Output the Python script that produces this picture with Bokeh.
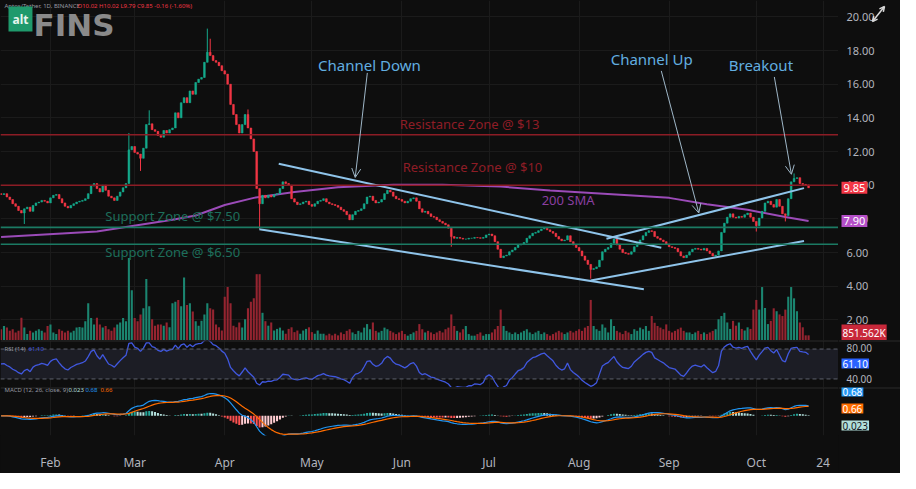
import numpy as np
import pandas as pd
from bokeh.plotting import figure
from bokeh.layouts import column, row
from bokeh.models import (ColumnDataSource, Range1d, Span, Label, Arrow, OpenHead,
                          FixedTicker, BoxAnnotation)
from bokeh.embed import file_html
from bokeh.resources import INLINE
from bokeh.core.properties import value

# ---------------- data ----------------
first_day = "2024-01-15"
first_open = 9.50
closes = [
    9.45, 9.5, 9.3, 9.15, 8.9, 8.75, 8.5, 8.35, 8.6, 8.7, 8.45, 8.8, 8.95, 9.0, 9.1, 9.05, 8.95,
    9.25, 9.4, 9.45, 9.2, 8.95, 8.75, 8.65, 8.8, 8.9, 9.0,
    9.05, 9.1, 9.2, 9.5, 9.95, 10.1, 9.8, 9.6, 10.0, 9.7,
    9.35, 9.25, 9.1, 9.35, 9.6, 9.85, 10.1, 12.1, 12.3, 11.95,
    11.85, 11.6, 12.2, 13.6, 13.65, 13.3, 13.2, 12.95, 12.85, 13.25,
    13.1, 13.3, 13.4, 14.3, 14.0, 14.9, 15.2, 14.9, 15.6, 15.4,
    16.1, 16.3, 16.4, 17.3, 17.9, 17.7, 17.4, 17.3, 17.1, 16.8,
    16.6, 16.0, 14.8, 14.2, 13.6, 13.1, 13.6, 14.2, 13.4, 12.75,
    12.0, 9.8, 8.9, 9.4, 9.25, 9.4, 9.3, 9.45, 9.5, 9.8,
    10.2, 10.1, 10.0, 9.2, 9.0, 8.85, 8.9, 9.0, 9.05, 8.85,
    8.75, 8.9, 9.05, 9.1, 9.2, 9.0, 8.9, 8.85, 8.8, 8.7,
    8.55, 8.45, 8.25, 7.95, 8.25, 8.45, 8.5, 8.6, 8.9, 9.3,
    9.35, 9.1, 8.95, 9.0, 9.15, 9.5, 9.7, 9.6, 9.35, 9.2,
    9.15, 9.05, 8.95, 9.05, 9.2, 9.25, 9.05, 8.6, 8.4, 8.45,
    8.3, 8.15, 8.1, 7.95, 7.85, 7.75, 7.65, 7.45, 6.95, 6.85,
    6.9, 6.85, 6.8, 6.8, 6.85, 6.85, 6.9, 6.88, 6.85, 6.9,
    7.05, 7.1, 7.0, 6.65, 6.2, 5.7, 5.8, 5.85, 6.05, 6.15,
    6.3, 6.45, 6.5, 6.6, 6.85, 7.0, 7.15, 7.2, 7.3, 7.4,
    7.45, 7.35, 7.25, 7.15, 6.95, 6.8, 6.7, 6.75, 7.0, 6.65,
    6.45, 6.3, 6.1, 5.8, 5.55, 5.3, 5.0, 5.05, 5.15, 5.55,
    6.05, 6.2, 6.3, 6.55, 6.8, 6.45, 6.2, 6.0, 5.95, 5.9,
    6.05, 6.35, 6.55, 6.75, 7.0, 7.2, 7.3, 7.25, 6.95, 6.85,
    6.75, 6.65, 6.5, 6.35, 6.3, 6.25, 6.05, 5.8, 5.7, 5.85,
    6.05, 6.2, 6.25, 6.2, 6.15, 6.25, 6.1, 5.95, 5.8, 5.85,
    6.1, 7.2, 7.75, 8.1, 8.3, 8.1, 8.05, 8.15, 8.1, 8.25,
    8.35, 8.1, 7.85, 7.6, 8.05, 8.45, 8.95, 9.05, 8.85, 8.7,
    9.15, 8.75, 8.3, 8.2, 9.2, 10.2, 10.4, 10.45, 10.1, 10.05,
    10.02, 9.85,
]
# volume, read as bar heights; one unit = 53.222K APT (last bar = 851.562K)
volume_read = [
    35, 45, 40, 30, 35, 25, 30, 71, 40, 20, 30, 25, 30, 35, 30, 25, 45,
    50, 25, 20, 35, 30, 25, 30, 25, 30, 40,
    42, 40, 60, 116, 70, 50, 71, 50, 40, 45,
    35, 30, 40, 50, 56, 70, 60, 256, 156, 70,
    60, 81, 100, 191, 106, 66, 46, 50, 50, 46,
    56, 41, 116, 120, 126, 106, 196, 110, 116, 90,
    60, 46, 61, 81, 116, 100, 96, 50, 41, 31,
    136, 166, 116, 46, 41, 56, 40, 66, 100, 120,
    131, 206, 206, 86, 60, 46, 56, 31, 36, 40,
    31, 21, 36, 41, 26, 31, 21, 31, 36, 41,
    26, 21, 31, 21, 21, 16, 21, 16, 21, 16,
    25, 20, 30, 35, 25, 20, 30, 25, 40, 51,
    35, 56, 30, 25, 30, 40, 35, 30, 25, 20,
    25, 30, 20, 15, 20, 25, 30, 51, 35, 25,
    30, 25, 20, 25, 30, 25, 35, 40, 81, 45,
    30, 25, 35, 45, 20, 15, 15, 20, 25, 15,
    20, 20, 25, 35, 45, 96, 45, 30, 25, 20,
    25, 20, 25, 30, 35, 25, 20, 25, 30, 20,
    25, 20, 15, 20, 25, 30, 25, 20, 25, 30,
    25, 30, 35, 30, 40, 45, 126, 45, 35, 30,
    50, 40, 25, 66, 45, 30, 25, 20, 30, 25,
    20, 35, 30, 40, 35, 45, 30, 76, 55, 45,
    40, 35, 50, 30, 25, 30, 35, 40, 30, 25,
    25, 20, 25, 30, 20, 25, 20, 25, 30, 35,
    66, 76, 86, 56, 36, 61, 46, 56, 36, 31,
    41, 36, 96, 126, 96, 166, 101, 51, 61, 100,
    91, 81, 76, 96, 136, 166, 131, 91, 56, 41,
    16, 16,
]
VOL_UNIT = 53222.0

wick_high = {"2024-02-28": 13.1, "2024-03-06": 14.45, "2024-03-26": 19.3,
             "2024-03-27": 18.7, "2024-04-09": 14.5, "2024-10-14": 10.7}
wick_low = {"2024-01-23": 7.7, "2024-03-03": 10.85, "2024-04-13": 7.4,
            "2024-06-18": 6.35, "2024-08-05": 4.45, "2024-10-01": 7.25,
            "2024-10-11": 7.85}

sma_dates = ["2024-01-15", "2024-02-17", "2024-03-14", "2024-03-22", "2024-04-01",
             "2024-04-11", "2024-04-25", "2024-05-10", "2024-05-29", "2024-06-15",
             "2024-07-05", "2024-07-22", "2024-08-18", "2024-09-01", "2024-09-14",
             "2024-09-28", "2024-10-11", "2024-10-19"]
sma_values = [6.92, 7.25, 7.95, 8.2, 8.83, 9.25, 9.6, 9.88, 10.03, 10.03,
              9.92, 9.69, 9.4, 9.25, 8.87, 8.54, 8.12, 7.88]

resistance_levels = [13.0, 10.0]
support_levels = [7.5, 6.5]

trend_lines = [  # (start date, start price, end date, end price)
    ("2024-04-19 14:00", 11.28, "2024-08-29 07:00", 6.29),   # channel down, upper
    ("2024-04-12 22:00", 7.38, "2024-08-23 07:00", 3.82),    # channel down, lower
    ("2024-08-05 00:00", 4.34, "2024-10-17 10:00", 6.69),    # channel up, lower
    ("2024-08-10 10:00", 6.82, "2024-10-17 10:00", 9.83),    # channel up, upper
]
arrows = [
    ("2024-05-20 02:00", 16.67, "2024-05-15 22:00", 10.46),
    ("2024-08-29 07:00", 16.79, "2024-09-11 05:00", 8.35),
    ("2024-10-07 05:00", 16.43, "2024-10-13 02:00", 10.65),
]
notes = [  # text, date, price, colour, size
    ("Channel Down", "2024-05-20 19:00", 17.13, "#62aee0", "15px"),
    ("Channel Up", "2024-08-26 00:00", 17.47, "#62aee0", "15px"),
    ("Breakout", "2024-10-02 14:00", 17.13, "#62aee0", "15px"),
    ("Resistance Zone @ $13", "2024-06-24 07:00", 13.63, "#8e1d26", "13px"),
    ("Resistance Zone @ $10", "2024-06-25 07:00", 11.10, "#8e1d26", "13px"),
    ("200 SMA", "2024-07-28 05:00", 9.10, "#8a3fa0", "13px"),
    ("Support Zone @ $7.50", "2024-03-14 02:00", 8.18, "#1d6e5b", "13px"),
    ("Support Zone @ $6.50", "2024-03-14 02:00", 6.06, "#1d6e5b", "13px"),
]

price_ticks = [2, 4, 6, 8, 10, 12, 14, 16, 18, 20]
rsi_tick_labels = ["80.00", "40.00"]
month_ticks = ["2024-02-01", "2024-03-01", "2024-04-01", "2024-05-01", "2024-06-01",
               "2024-07-01", "2024-08-01", "2024-09-01", "2024-10-01", "2024-10-24"]
month_labels = ["Feb", "Mar", "Apr", "May", "Jun", "Jul", "Aug", "Sep", "Oct", "24"]

# ---------------- derived ----------------
origin = pd.Timestamp("2024-02-01")
def day(s):
    return (pd.Timestamp(s) - origin) / pd.Timedelta(days=1)

dates = pd.date_range(first_day, periods=len(closes), freq="D")
xs = np.array([day(d) for d in dates])
c = np.array(closes, dtype=float)
o = np.array([first_open] + closes[:-1], dtype=float)
hi = np.maximum(o, c)
lo = np.minimum(o, c)
for i, d in enumerate(dates):
    k = d.strftime("%Y-%m-%d")
    if k in wick_high:
        hi[i] = max(hi[i], wick_high[k])
    if k in wick_low:
        lo[i] = min(lo[i], wick_low[k])
UP, DN = "#15a98b", "#f23645"
up = c >= o
ccol = np.where(up, UP, DN)
vcol = np.where(up, "#1b8570", "#952430")
vol = np.array(volume_read, dtype=float) * VOL_UNIT

src = ColumnDataSource(dict(x=xs, o=o, c=c, hi=hi, lo=lo, col=ccol, vcol=vcol,
                            top=np.maximum(o, c), bot=np.minimum(o, c), vol=vol))

# RSI 14 (Wilder), seeded neutral
ag, al = 0.15, 0.15
rsi = [50.0]
for i in range(1, len(c)):
    ch = c[i] - c[i - 1]
    ag = (ag * 13 + max(ch, 0)) / 14
    al = (al * 13 + max(-ch, 0)) / 14
    rsi.append(100 - 100 / (1 + ag / al))
rsi = np.array(rsi)

# MACD 12/26/9
cs = pd.Series(c)
macd = (cs.ewm(span=12, adjust=False).mean() - cs.ewm(span=26, adjust=False).mean()).values
sig = pd.Series(macd).ewm(span=9, adjust=False).mean().values
hist = macd - sig
hcol = []
for i, h in enumerate(hist):
    prev = hist[i - 1] if i > 0 else 0
    if h >= 0:
        hcol.append("#26a69a" if h > prev else "#b2dfdb")
    else:
        hcol.append("#ff5252" if h < prev else "#ffcdd2")

# ---------------- layout ----------------
BG = "#0e0e0e"
GRID = "#1b1b1b"
SEP = "#2a2a2a"
TXT = "#b2b5be"
FONT = "Noto Sans"
W, RIGHT = 900, 62
FW = W - RIGHT
H1, H2, H3, HB = 340, 47, 54, 32
x_range = Range1d(-17.2, 271.3)
tick_x = [day(t) for t in month_ticks]


def pane(height, y_range, bottom=0):
    f = figure(width=FW, height=height, x_range=x_range, y_range=y_range,
               y_axis_location=None, output_backend="svg", toolbar_location=None,
               background_fill_color=BG, border_fill_color=BG, outline_line_color=None,
               min_border_left=0, min_border_right=0, min_border_top=0,
               min_border_bottom=bottom)
    f.xgrid.ticker = FixedTicker(ticks=tick_x)
    f.xgrid.grid_line_color = GRID
    f.ygrid.grid_line_color = None
    return f


def side(height, y_range, bottom=0):
    f = figure(width=RIGHT, height=height, x_range=Range1d(0, RIGHT), y_range=y_range,
               x_axis_location=None, y_axis_location=None, output_backend="svg",
               toolbar_location=None, background_fill_color=BG, border_fill_color=BG,
               outline_line_color=None, min_border_left=0, min_border_right=0,
               min_border_top=0, min_border_bottom=bottom)
    f.xgrid.grid_line_color = None
    f.ygrid.grid_line_color = None
    return f


def tag(f, text, y, bg, fg="#ffffff", y_units="data", size="11px", pad=2):
    f.add_layout(Label(x=3, y=y, y_units=y_units, text=text,
                       text_color=fg, text_font=FONT, text_font_size=size,
                       text_align="left", text_baseline="middle",
                       background_fill_color=bg, padding=pad))


def small(f, text, x, y, color, size="6px", baseline="middle"):
    f.add_layout(Label(x=x, y=y, x_units="screen", y_units="screen", text=text,
                       text_color=color, text_font=FONT, text_font_size=size,
                       text_baseline=baseline, text_align="left"))


# ---- main pane ----
yr_main = Range1d(0.78, 20.97)
p = pane(H1, yr_main)
p.xaxis.visible = False
p.ygrid.grid_line_color = GRID
p.ygrid.ticker = FixedTicker(ticks=price_ticks)
p.extra_y_ranges = {"vol": Range1d(0, 1056 * VOL_UNIT)}

p.vbar(x="x", width=0.72, top="vol", bottom=0, fill_color="vcol", line_color=None,
       y_range_name="vol", source=src)

for lv in resistance_levels:
    p.add_layout(Span(location=lv, dimension="width", line_color="#8c1c25", line_width=1.6))
for lv in support_levels:
    p.add_layout(Span(location=lv, dimension="width", line_color="#1b7a63", line_width=1.6))

p.line([day(d) for d in sma_dates], sma_values, line_color="#9b4bb8", line_width=2)

p.segment(x0="x", y0="hi", x1="x", y1="lo", line_color="col", line_width=1, source=src)
p.vbar(x="x", width=0.62, top="top", bottom="bot", fill_color="col", line_color="col",
       line_width=0.5, source=src)

for d0, y0, d1, y1 in trend_lines:
    p.line([day(d0), day(d1)], [y0, y1], line_color="#8fc4ea", line_width=2)

for d0, y0, d1, y1 in arrows:
    p.add_layout(Arrow(x_start=day(d0), y_start=y0, x_end=day(d1), y_end=y1,
                       line_color="#9fb7c8", line_width=1,
                       end=OpenHead(size=9, line_color="#9fb7c8", line_width=1)))

for text, d, y, col, size in notes:
    p.add_layout(Label(x=day(d), y=y, text=text, text_color=col, text_font=FONT,
                       text_font_size=size, text_align="center", text_baseline="middle"))

# header and logo
small(p, "Aptos/Tether, 1D, BINANCE", 4, H1 - 1, "#9598a1", baseline="top")
small(p, "O10.02  H10.02  L9.79  C9.85  -0.16 (-1.60%)", 77, H1 - 1, "#f23645", baseline="top")
p.add_layout(Label(x=8, y=H1 - 6, x_units="screen", y_units="screen", text="alt",
                   text_color="#e8f5ef", text_font=FONT, text_font_size="12px",
                   text_font_style="bold", text_baseline="top", text_align="left",
                   background_fill_color="#1f9a6c", padding=4))
p.add_layout(Label(x=33, y=H1 - 24, x_units="screen", y_units="screen", text="FINS",
                   text_color="#8a8a8a", text_font="DejaVu Sans", text_font_size="31px",
                   text_font_style="bold", text_baseline="alphabetic", text_align="left"))

pa = side(H1, yr_main)
pa.text(x=[8] * len(price_ticks), y=price_ticks, text=["%.2f" % t for t in price_ticks],
        text_color=TXT, text_font=value(FONT), text_font_size="11px",
        text_baseline="middle", text_align="left")
tag(pa, "9.85", c[-1], "#f23645")
tag(pa, "7.90", sma_values[-1], "#b54fc8")
tag(pa, "851.562K", 8, "#c8283a", y_units="screen", size="10px", pad=1)
pa.add_layout(Arrow(x_start=34, y_start=H1 - 21, x_end=46, y_end=H1 - 6,
                    start_units="screen", end_units="screen",
                    line_color="#d8d8d8", line_width=1.5,
                    start=OpenHead(size=5, line_color="#d8d8d8", line_width=1.5),
                    end=OpenHead(size=5, line_color="#d8d8d8", line_width=1.5)))

# ---- RSI pane ----
yr_rsi = Range1d(18.6, 81.4)
r = pane(H2, yr_rsi)
r.xaxis.visible = False
r.add_layout(BoxAnnotation(bottom=30, top=70, fill_color="#1c1d25", fill_alpha=1.0,
                           line_color=None, level="underlay"))
for lv in (70, 30):
    r.add_layout(Span(location=lv, dimension="width", line_color="#5d606b",
                      line_width=1, line_dash="4 3"))
r.add_layout(Span(location=yr_rsi.end, dimension="width", line_color=SEP, line_width=2))
r.line(xs, rsi, line_color="#4058e0", line_width=1.3)
small(r, "RSI (14)", 4, H2 - 8, "#9598a1")
small(r, "61.10", 28, H2 - 8, "#4058e0")

ra = side(H2, yr_rsi)
ra.add_layout(Span(location=yr_rsi.end, dimension="width", line_color=SEP, line_width=2))
ra.add_layout(Label(x=8, y=H2 - 7, y_units="screen", text=rsi_tick_labels[0],
                    text_color=TXT, text_font=FONT, text_font_size="10px",
                    text_baseline="middle", text_align="left"))
ra.add_layout(Label(x=8, y=H2 - 38, y_units="screen", text=rsi_tick_labels[1],
                    text_color=TXT, text_font=FONT, text_font_size="10px",
                    text_baseline="middle", text_align="left"))
tag(ra, "61.10", H2 - 23, "#2962ff", y_units="screen", size="10px", pad=1)

# ---- MACD pane ----
top = float(np.max(macd)) * 33.0 / 26.0
yr_macd = Range1d(-top * 23.0 / 33.0, top)
m = pane(H3 + HB, yr_macd, bottom=HB)
m.add_layout(Span(location=top, dimension="width", line_color=SEP, line_width=2))
m.vbar(x=xs, top=hist, bottom=0, width=0.7, fill_color=hcol, line_color=None)
m.line(xs, macd, line_color="#2196f3", line_width=1.2)
m.line(xs, sig, line_color="#ff6d00", line_width=1.2)
small(m, "MACD (12, 26, close, 9)", 4, H3 - 8, "#9598a1")
small(m, "0.023", 68, H3 - 8, "#b2dfdb")
small(m, "0.68", 85, H3 - 8, "#2196f3")
small(m, "0.66", 100, H3 - 8, "#ff6d00")

xa = m.xaxis[0]
xa.ticker = FixedTicker(ticks=tick_x)
xa.major_label_overrides = {t: lab for t, lab in zip(tick_x, month_labels)}
xa.axis_line_color = None
xa.major_tick_line_color = None
xa.minor_tick_line_color = None
xa.major_label_text_color = TXT
xa.major_label_text_font = FONT
xa.major_label_text_font_size = "12px"
xa.major_label_standoff = 12

ma = side(H3 + HB, yr_macd, bottom=HB)
ma.add_layout(Span(location=top, dimension="width", line_color=SEP, line_width=2))
tag(ma, "0.68", H3 - 10, "#2196f3", y_units="screen", size="10px", pad=1)
tag(ma, "0.66", H3 - 27, "#ff6d00", y_units="screen", size="10px", pad=1)
tag(ma, "0.023", H3 - 44, "#b2dfdb", fg="#131722", y_units="screen", size="10px", pad=1)

layout = column(row(p, pa, spacing=0), row(r, ra, spacing=0), row(m, ma, spacing=0),
                spacing=0, styles={"background-color": BG})
open("out.html", "w").write(file_html(layout, INLINE))
